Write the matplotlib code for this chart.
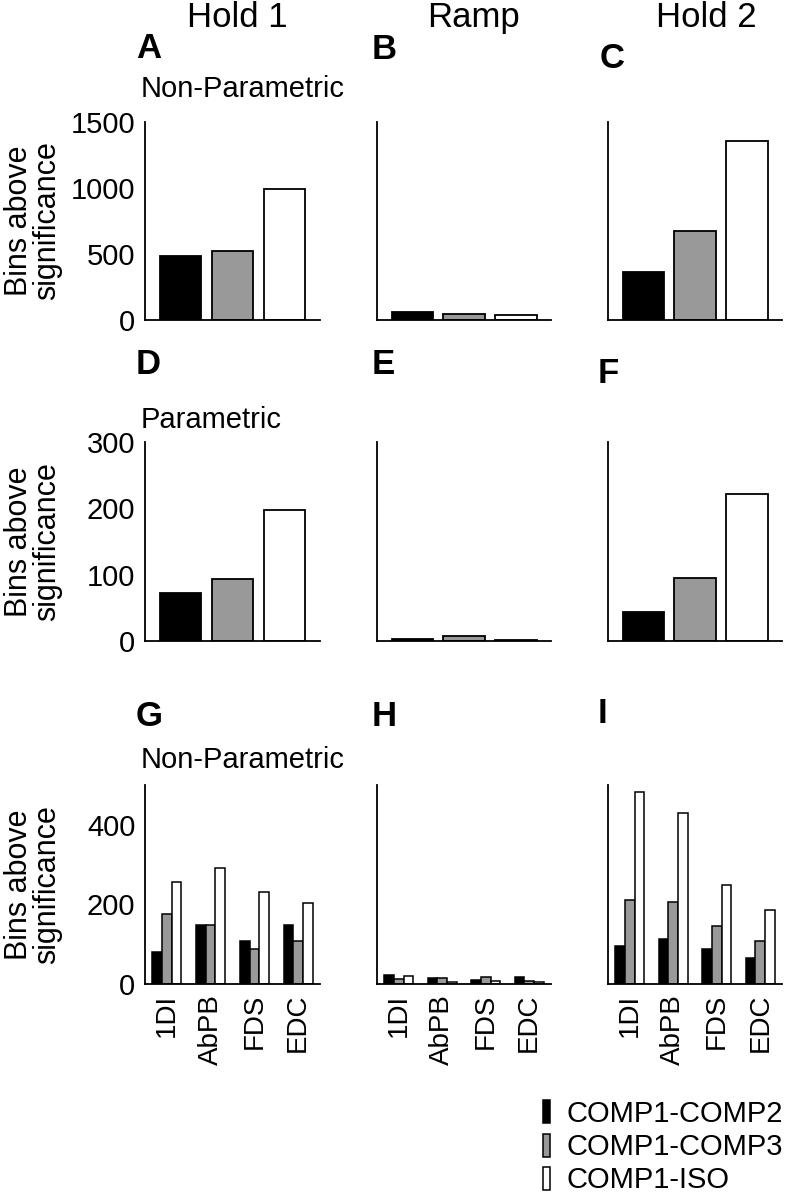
import matplotlib.pyplot as plt
import numpy as np

plt.rcParams['font.family'] = ['Liberation Sans', 'DejaVu Sans']

# Veriler
periods = ['Hold 1', 'Ramp', 'Hold 2']
series = ['COMP1-COMP2', 'COMP1-COMP3', 'COMP1-ISO']
bar_colors = ['black', '#999999', 'white']
muscles = ['1DI', 'AbPB', 'FDS', 'EDC']

# A-C: non-parametric, pooled
nonpar_hold1 = [485, 523, 990]
nonpar_ramp = [60, 48, 35]
nonpar_hold2 = [361, 674, 1356]

# D-F: parametric, pooled
par_hold1 = [73, 94, 198]
par_ramp = [3, 7, 2]
par_hold2 = [44, 95, 221]

# G-I: non-parametric per muscle (one list per series)
musc_hold1 = [[80, 149, 107, 147],
              [176, 147, 88, 108],
              [257, 292, 232, 203]]
musc_ramp = [[22, 14, 11, 17],
             [12, 14, 17, 8],
             [19, 4, 7, 4]]
musc_hold2 = [[95, 112, 88, 66],
              [212, 207, 145, 108],
              [482, 430, 250, 187]]

W, H = 790, 1199
fig = plt.figure(figsize=(W / 100, H / 100), dpi=100)


def add_ax(x0, y0, x1, y1):
    return fig.add_axes([x0 / W, 1 - y1 / H, (x1 - x0) / W, (y1 - y0) / H])


col_x = [(145, 320), (377, 551), (608, 782)]
row_y = [(122, 320), (442, 641), (785, 984)]

row_data = [[nonpar_hold1, nonpar_ramp, nonpar_hold2],
            [par_hold1, par_ramp, par_hold2]]
row_ylim = [1500, 300, 500]
row_ticks = [[0, 500, 1000, 1500], [0, 100, 200, 300], [0, 200, 400]]

axes = []
for r in range(3):
    for c in range(3):
        ax = add_ax(col_x[c][0], row_y[r][0], col_x[c][1], row_y[r][1])
        if r < 2:
            vals = row_data[r][c]
            x = np.arange(1, len(vals) + 1)
            ax.bar(x, vals, width=0.8, color=bar_colors, edgecolor='black', linewidth=1.3)
            ax.set_xlim(0.32, 3.68)
            ax.set_xticks([])
        else:
            data = [musc_hold1, musc_ramp, musc_hold2][c]
            x = np.arange(1, len(muscles) + 1)
            w = 0.22
            for i, vals in enumerate(data):
                ax.bar(x + (i - 1) * w, vals, width=w, color=bar_colors[i],
                       edgecolor='black', linewidth=1.1, label=series[i])
            ax.set_xlim(0.5, 4.5)
            ax.set_xticks(x)
            ax.set_xticklabels(muscles, rotation=90, fontsize=20)
        ax.set_ylim(0, row_ylim[r])
        ax.set_yticks(row_ticks[r])
        if c > 0:
            ax.set_yticklabels([])
        else:
            ax.tick_params(axis='y', labelsize=21)
        ax.tick_params(length=0, pad=7)
        for s in ['top', 'right']:
            ax.spines[s].set_visible(False)
        for s in ['left', 'bottom']:
            ax.spines[s].set_linewidth(1.3)
        axes.append(ax)

# Sütun başlıkları
for name, xc in zip(periods, [237, 473, 706]):
    fig.text(xc / W, 1 - 27 / H, name, fontsize=25, ha='center', va='baseline')

# Panel harfleri
letters = [('A', 136, 58), ('B', 372, 59), ('C', 600, 68),
           ('D', 136, 374), ('E', 372, 374), ('F', 598, 383),
           ('G', 136, 726), ('H', 372, 726), ('I', 598, 723)]
for t, xl, yl in letters:
    fig.text(xl / W, 1 - yl / H, t, fontsize=25, fontweight='bold', va='baseline')

# Test tipleri
for t, yb in [('Non-Parametric', 97), ('Parametric', 428), ('Non-Parametric', 768)]:
    fig.text(141 / W, 1 - yb / H, t, fontsize=21, va='baseline')

# y eksen etiketleri
for (y0, y1) in row_y:
    fig.text(33 / W, 1 - (y0 + y1) / 2 / H, 'Bins above\nsignificance', fontsize=22,
             rotation=90, ha='center', va='center', linespacing=0.95)

handles, labels = axes[-1].get_legend_handles_labels()
fig.legend(handles, labels, loc='upper left', bbox_to_anchor=(543 / W, 1 - 1100 / H),
           frameon=False, fontsize=21, handlelength=0.25, handleheight=0.83,
           handletextpad=0.55, labelspacing=0.18, borderpad=0, borderaxespad=0)

plt.savefig('out.png', dpi=100)
